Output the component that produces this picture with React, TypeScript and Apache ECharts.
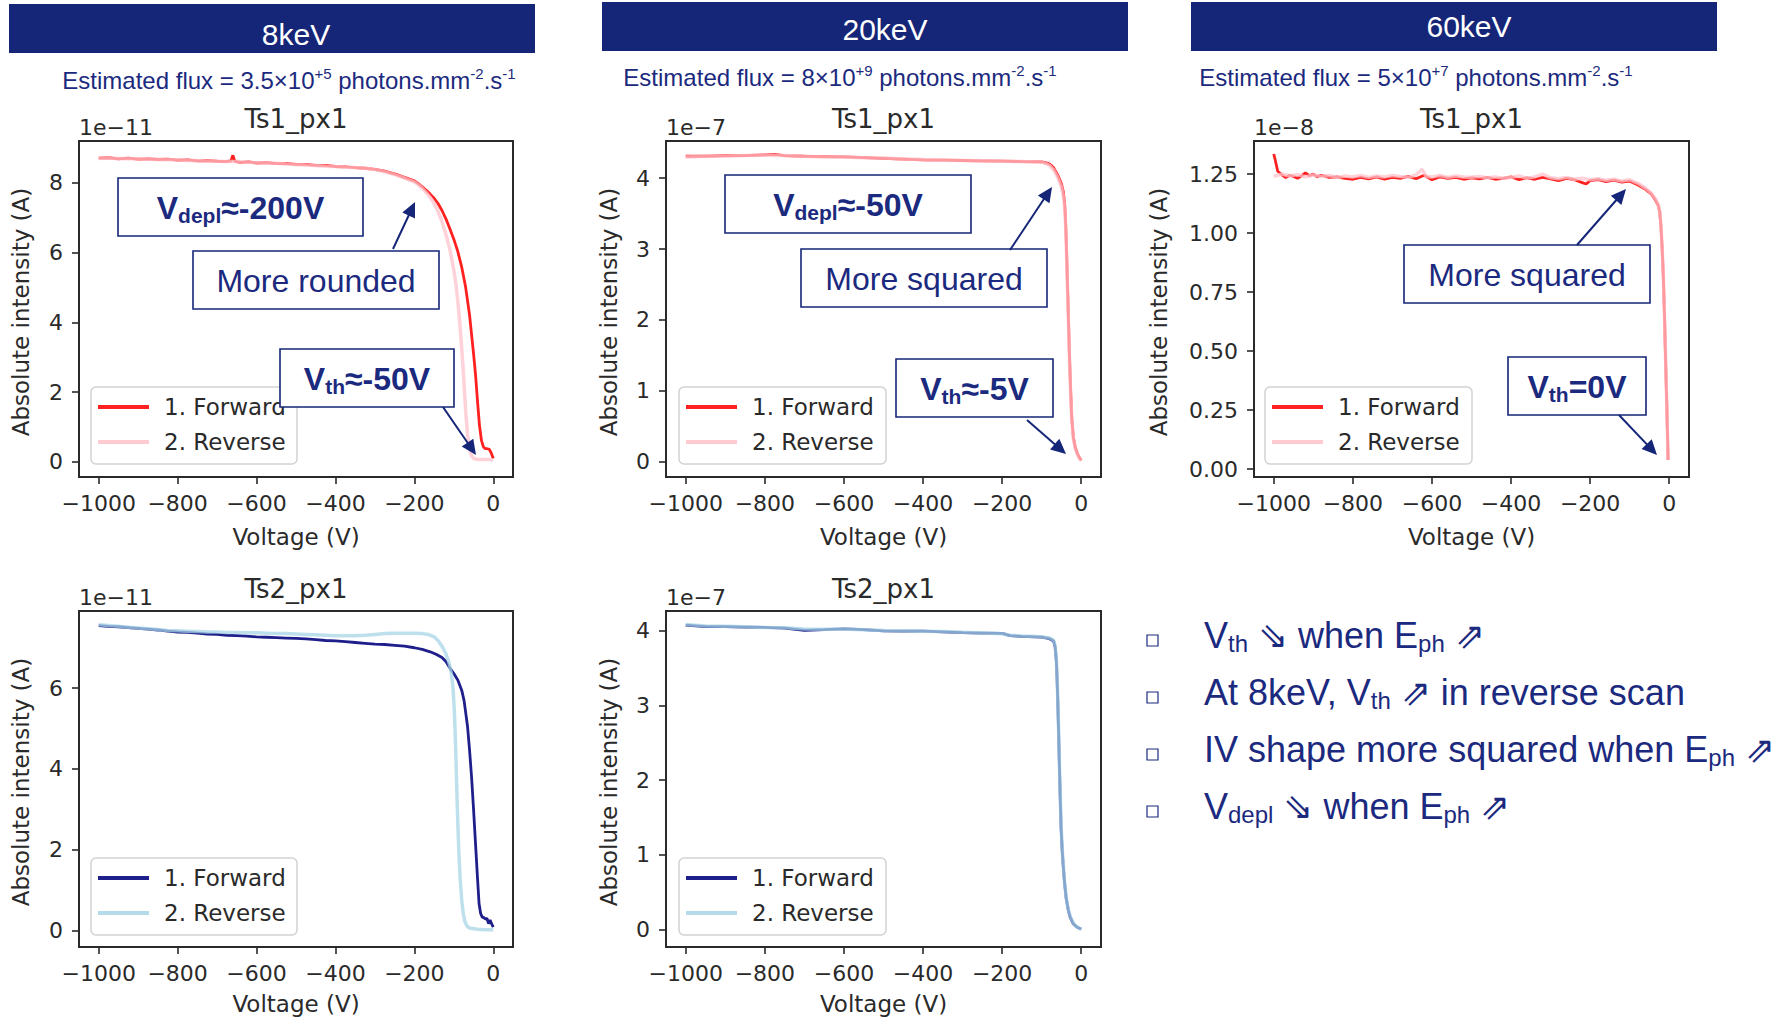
import React, { useEffect, useRef } from 'react';
import * as echarts from 'echarts';

// ---------------- DATA (voltage V, current in the panel's 1e-x unit) ----------------
// 8keV, Ts1_px1 (x 1e-11 A)
const A_FWD: [number, number][] = [
  [-1000, 8.70], [-975, 8.71], [-950, 8.68], [-925, 8.70], [-900, 8.67], [-875, 8.68], [-850, 8.66], [-825, 8.67],
  [-800, 8.64], [-775, 8.65], [-750, 8.62], [-725, 8.63], [-700, 8.61], [-680, 8.60], [-665, 8.62], [-660, 8.78],
  [-655, 8.61], [-640, 8.58], [-620, 8.59], [-600, 8.56], [-575, 8.57], [-550, 8.54], [-525, 8.55], [-500, 8.52],
  [-475, 8.52], [-450, 8.49], [-425, 8.49], [-400, 8.46], [-375, 8.45], [-350, 8.43], [-325, 8.41], [-300, 8.38],
  [-275, 8.33], [-250, 8.25], [-225, 8.15], [-200, 8.05], [-190, 7.97], [-180, 7.88], [-170, 7.78], [-160, 7.67],
  [-150, 7.55], [-140, 7.40], [-130, 7.20], [-120, 6.96], [-110, 6.68], [-100, 6.38], [-90, 6.03], [-80, 5.58],
  [-70, 5.00], [-60, 4.20], [-50, 3.10], [-45, 2.50], [-40, 1.75], [-35, 1.05], [-30, 0.62], [-25, 0.43],
  [-20, 0.38], [-15, 0.38], [-10, 0.36], [-5, 0.25], [0, 0.10],
];
const A_REV: [number, number][] = [
  [-1000, 8.69], [-975, 8.70], [-950, 8.69], [-925, 8.68], [-900, 8.68], [-875, 8.67], [-850, 8.66], [-825, 8.65],
  [-800, 8.65], [-775, 8.63], [-750, 8.63], [-725, 8.61], [-700, 8.61], [-675, 8.60], [-650, 8.60], [-625, 8.58],
  [-600, 8.57], [-575, 8.56], [-550, 8.55], [-525, 8.53], [-500, 8.52], [-475, 8.50], [-450, 8.49], [-425, 8.47],
  [-400, 8.46], [-375, 8.44], [-350, 8.43], [-325, 8.41], [-300, 8.37], [-275, 8.31], [-250, 8.23], [-225, 8.13],
  [-200, 8.02], [-190, 7.94], [-180, 7.84], [-170, 7.72], [-160, 7.58], [-150, 7.40], [-140, 7.17], [-130, 6.88],
  [-120, 6.52], [-110, 6.08], [-100, 5.50], [-95, 5.12], [-90, 4.62], [-85, 4.00], [-80, 3.25], [-75, 2.45],
  [-70, 1.45], [-65, 0.78], [-60, 0.38], [-55, 0.18], [-50, 0.10], [-40, 0.07], [-30, 0.07], [-20, 0.07],
  [-10, 0.07], [0, 0.06],
];
// 20keV, Ts1_px1 (x 1e-7 A)
const B_FWD: [number, number][] = [
  [-1000, 4.31], [-950, 4.31], [-900, 4.32], [-850, 4.32], [-800, 4.33], [-775, 4.335], [-750, 4.32], [-700, 4.31],
  [-650, 4.305], [-600, 4.30], [-550, 4.29], [-500, 4.28], [-450, 4.27], [-400, 4.26], [-350, 4.255], [-300, 4.25],
  [-250, 4.245], [-200, 4.24], [-150, 4.235], [-100, 4.23], [-90, 4.22], [-80, 4.20], [-70, 4.15], [-60, 4.05],
  [-50, 3.92], [-45, 3.80], [-42, 3.65], [-40, 3.45], [-38, 3.15], [-36, 2.75], [-34, 2.35], [-32, 1.95],
  [-30, 1.55], [-28, 1.20], [-26, 0.90], [-24, 0.62], [-20, 0.35], [-15, 0.20], [-10, 0.12], [-5, 0.06], [0, 0.02],
];
const B_REV: [number, number][] = [
  [-1000, 4.30], [-950, 4.31], [-900, 4.31], [-850, 4.32], [-800, 4.325], [-750, 4.32], [-700, 4.31], [-650, 4.30],
  [-600, 4.30], [-550, 4.29], [-500, 4.285], [-450, 4.27], [-400, 4.265], [-350, 4.255], [-300, 4.25], [-250, 4.245],
  [-200, 4.24], [-150, 4.235], [-100, 4.225], [-90, 4.21], [-80, 4.18], [-70, 4.12], [-60, 4.02], [-50, 3.88],
  [-45, 3.75], [-42, 3.60], [-40, 3.40], [-38, 3.10], [-36, 2.70], [-34, 2.30], [-32, 1.90], [-30, 1.50],
  [-28, 1.15], [-26, 0.85], [-24, 0.60], [-20, 0.33], [-15, 0.19], [-10, 0.11], [-5, 0.05], [0, 0.02],
];
// 60keV, Ts1_px1 (x 1e-8 A)
const C_FWD: [number, number][] = [
  [-1000, 1.335], [-995, 1.30], [-990, 1.262], [-980, 1.248], [-970, 1.235], [-960, 1.245], [-950, 1.24], [-940, 1.232],
  [-930, 1.242], [-920, 1.255], [-910, 1.243], [-900, 1.25], [-890, 1.238], [-880, 1.245], [-860, 1.236], [-840, 1.238],
  [-820, 1.232], [-800, 1.228], [-780, 1.236], [-760, 1.230], [-740, 1.238], [-720, 1.228], [-700, 1.236], [-680, 1.232],
  [-660, 1.24], [-640, 1.23], [-620, 1.245], [-600, 1.226], [-580, 1.238], [-560, 1.232], [-540, 1.236], [-520, 1.228],
  [-500, 1.234], [-480, 1.23], [-460, 1.236], [-440, 1.228], [-420, 1.232], [-400, 1.238], [-380, 1.226], [-360, 1.234],
  [-340, 1.228], [-320, 1.236], [-300, 1.23], [-280, 1.222], [-260, 1.232], [-240, 1.226], [-220, 1.214], [-210, 1.208],
  [-200, 1.222], [-180, 1.226], [-160, 1.218], [-140, 1.224], [-120, 1.216], [-100, 1.22], [-80, 1.205], [-60, 1.185],
  [-45, 1.165], [-35, 1.14], [-28, 1.118], [-24, 1.09], [-21, 1.03], [-18, 0.94], [-15, 0.82], [-12, 0.65],
  [-9, 0.45], [-6, 0.26], [-4, 0.12], [-3, 0.04],
];
const C_REV: [number, number][] = [
  [-1000, 1.24], [-990, 1.245], [-980, 1.25], [-960, 1.242], [-940, 1.248], [-920, 1.238], [-900, 1.246], [-880, 1.24],
  [-860, 1.244], [-840, 1.236], [-820, 1.242], [-800, 1.238], [-780, 1.244], [-760, 1.236], [-740, 1.242], [-720, 1.238],
  [-700, 1.244], [-680, 1.24], [-660, 1.236], [-640, 1.246], [-625, 1.27], [-615, 1.24], [-600, 1.238], [-580, 1.244],
  [-560, 1.236], [-540, 1.242], [-520, 1.238], [-500, 1.236], [-480, 1.24], [-460, 1.234], [-440, 1.238], [-420, 1.232],
  [-400, 1.236], [-380, 1.242], [-360, 1.232], [-340, 1.238], [-320, 1.25], [-300, 1.234], [-280, 1.23], [-260, 1.236],
  [-240, 1.228], [-220, 1.232], [-200, 1.226], [-180, 1.23], [-160, 1.224], [-140, 1.228], [-120, 1.22], [-100, 1.226],
  [-90, 1.218], [-80, 1.212], [-60, 1.19], [-45, 1.168], [-35, 1.145], [-28, 1.12], [-24, 1.095], [-21, 1.035],
  [-18, 0.945], [-15, 0.825], [-12, 0.655], [-9, 0.455], [-6, 0.265], [-4, 0.125], [-3, 0.04],
];
// 8keV, Ts2_px1 (x 1e-11 A)
const D_FWD: [number, number][] = [
  [-1000, 7.55], [-975, 7.53], [-950, 7.52], [-925, 7.50], [-900, 7.48], [-875, 7.46], [-850, 7.44], [-825, 7.41],
  [-800, 7.39], [-775, 7.38], [-750, 7.36], [-725, 7.34], [-700, 7.33], [-675, 7.31], [-650, 7.30], [-625, 7.29],
  [-600, 7.27], [-575, 7.26], [-550, 7.25], [-525, 7.24], [-500, 7.23], [-475, 7.22], [-450, 7.20], [-425, 7.18],
  [-400, 7.17], [-375, 7.15], [-350, 7.13], [-325, 7.11], [-300, 7.09], [-275, 7.08], [-250, 7.06], [-225, 7.04],
  [-200, 7.00], [-180, 6.96], [-160, 6.90], [-145, 6.84], [-130, 6.76], [-120, 6.66], [-110, 6.50], [-100, 6.36],
  [-90, 6.20], [-80, 5.95], [-74, 5.69], [-70, 5.40], [-65, 5.03], [-60, 4.45], [-55, 3.80], [-50, 3.00],
  [-45, 2.15], [-40, 1.30], [-36, 0.66], [-32, 0.42], [-28, 0.33], [-24, 0.32], [-20, 0.28], [-16, 0.30],
  [-12, 0.17], [-8, 0.26], [-5, 0.18], [0, 0.08],
];
const D_REV: [number, number][] = [
  [-1000, 7.57], [-975, 7.55], [-950, 7.53], [-925, 7.51], [-900, 7.49], [-875, 7.47], [-850, 7.45], [-825, 7.43],
  [-800, 7.42], [-775, 7.41], [-750, 7.40], [-725, 7.39], [-700, 7.39], [-675, 7.38], [-650, 7.38], [-625, 7.37],
  [-600, 7.37], [-575, 7.36], [-550, 7.35], [-525, 7.35], [-500, 7.34], [-475, 7.33], [-450, 7.32], [-425, 7.31],
  [-400, 7.30], [-375, 7.30], [-350, 7.30], [-325, 7.31], [-300, 7.33], [-275, 7.35], [-250, 7.36], [-225, 7.36],
  [-200, 7.36], [-180, 7.35], [-165, 7.33], [-150, 7.27], [-140, 7.18], [-130, 7.04], [-120, 6.85], [-112, 6.62],
  [-106, 6.35], [-102, 6.00], [-99, 5.50], [-97, 5.00], [-95, 4.40], [-93, 3.70], [-91, 3.00], [-89, 2.40],
  [-87, 1.90], [-84, 1.30], [-80, 0.75], [-76, 0.42], [-72, 0.22], [-66, 0.10], [-60, 0.06], [-40, 0.03],
  [-20, 0.02], [0, 0.02],
];
// 20keV, Ts2_px1 (x 1e-7 A)
const E_FWD: [number, number][] = [
  [-1000, 4.07], [-975, 4.06], [-950, 4.05], [-900, 4.05], [-850, 4.045], [-800, 4.04], [-750, 4.03], [-700, 4.00],
  [-650, 4.01], [-600, 4.02], [-550, 4.01], [-500, 3.995], [-450, 3.99], [-400, 3.99], [-350, 3.98], [-300, 3.97],
  [-250, 3.965], [-200, 3.96], [-180, 3.93], [-150, 3.92], [-100, 3.91], [-80, 3.89], [-70, 3.86], [-66, 3.78],
  [-63, 3.60], [-61, 3.35], [-59, 3.00], [-57, 2.60], [-55, 2.15], [-53, 1.75], [-51, 1.37], [-48, 1.05],
  [-45, 0.82], [-42, 0.62], [-38, 0.42], [-33, 0.27], [-28, 0.17], [-20, 0.08], [-12, 0.04], [-5, 0.02], [0, 0.01],
];
const E_REV: [number, number][] = [
  [-1000, 4.08], [-975, 4.07], [-950, 4.06], [-900, 4.055], [-850, 4.05], [-800, 4.04], [-750, 4.035], [-700, 4.02],
  [-650, 4.015], [-600, 4.02], [-550, 4.01], [-500, 4.00], [-450, 3.995], [-400, 3.99], [-350, 3.985], [-300, 3.975],
  [-250, 3.965], [-200, 3.955], [-180, 3.935], [-150, 3.925], [-100, 3.915], [-80, 3.90], [-70, 3.87], [-66, 3.80],
  [-63, 3.63], [-61, 3.38], [-59, 3.03], [-57, 2.63], [-55, 2.18], [-53, 1.78], [-51, 1.40], [-48, 1.07],
  [-45, 0.84], [-42, 0.63], [-38, 0.43], [-33, 0.28], [-28, 0.18], [-20, 0.09], [-12, 0.04], [-5, 0.02], [0, 0.01],
];

const VOLT_TICKS = [-1000, -800, -600, -400, -200, 0];
const TICKS_8KEV_TS1 = [0, 2, 4, 6, 8];
const TICKS_20KEV = [0, 1, 2, 3, 4];
const TICKS_60KEV = [0, 0.25, 0.5, 0.75, 1.0, 1.25];
const TICKS_8KEV_TS2 = [0, 2, 4, 6];

const ENERGIES = ['8keV', '20keV', '60keV'];
const FLUX_MANTISSA = ['3.5×10', '8×10', '5×10'];
const FLUX_EXP = ['+5', '+9', '+7'];
const LEGEND_NAMES = ['1. Forward', '2. Reverse'];
const X_NAME = 'Voltage (V)';
const Y_NAME = 'Absolute intensity (A)';

// ---------------- STYLE / LAYOUT ----------------
const NAVY = '#152678';
const TEXT_NAVY = '#1b2a7e';
const MPL = '#2a2a2a';
const MPL_FONT = 'DejaVu Sans';
const SLIDE_FONT = 'Liberation Sans';

const RED = '#ff2020';
const PINK = '#ffc2cb';
const DARKBLUE = '#1f1f8c';
const LIGHTBLUE = '#a8d5e6';

type Panel = {
  box: [number, number, number, number];
  y: [number, number];
  ticks: number[];
  dec: number;
  title: string;
  exp: string;
  fwd: [number, number][];
  rev: [number, number][];
  colors: [string, string];
  legend: [number, number, number, number];
  yLabelX: number;
  xNameY: number;
};

const PANELS: Panel[] = [
  { box: [79, 141, 434, 336], y: [-0.43, 9.19], ticks: TICKS_8KEV_TS1, dec: 0, title: 'Ts1_px1', exp: '1e\u221211', fwd: A_FWD, rev: A_REV, colors: [RED, PINK], legend: [91, 387, 206, 77], yLabelX: 21, xNameY: 537 },
  { box: [666, 141, 435, 336], y: [-0.215, 4.525], ticks: TICKS_20KEV, dec: 0, title: 'Ts1_px1', exp: '1e\u22127', fwd: B_FWD, rev: B_REV, colors: [RED, PINK], legend: [679, 387, 207, 77], yLabelX: 609, xNameY: 537 },
  { box: [1254, 141, 435, 336], y: [-0.033, 1.39], ticks: TICKS_60KEV, dec: 2, title: 'Ts1_px1', exp: '1e\u22128', fwd: C_FWD, rev: C_REV, colors: [RED, PINK], legend: [1265, 387, 207, 77], yLabelX: 1159, xNameY: 537 },
  { box: [79, 611, 434, 336], y: [-0.41, 7.91], ticks: TICKS_8KEV_TS2, dec: 0, title: 'Ts2_px1', exp: '1e\u221211', fwd: D_FWD, rev: D_REV, colors: [DARKBLUE, LIGHTBLUE], legend: [91, 858, 206, 77], yLabelX: 21, xNameY: 1004 },
  { box: [666, 611, 435, 336], y: [-0.23, 4.26], ticks: TICKS_20KEV, dec: 0, title: 'Ts2_px1', exp: '1e\u22127', fwd: E_FWD, rev: E_REV, colors: [DARKBLUE, LIGHTBLUE], legend: [679, 858, 207, 77], yLabelX: 609, xNameY: 1004 },
];

const HEADERS: [number, number, number, number][] = [
  [9, 4, 526, 49],
  [602, 2, 526, 49],
  [1191, 2, 526, 49],
];
const HEADER_TEXT_POS: [number, number][] = [[296, 34], [885, 29], [1469, 26]];
const FLUX_POS: [number, number][] = [[289, 80], [840, 77], [1416, 77]];

type Part = [string, string];
const ANNOTATIONS: { box: [number, number, number, number]; parts: Part[] }[] = [
  { box: [118, 178, 245, 58], parts: [['b', 'V'], ['bs', 'depl'], ['b', '≈-200V']] },
  { box: [193, 251, 246, 58], parts: [['r', 'More rounded']] },
  { box: [280, 349, 174, 58], parts: [['b', 'V'], ['bs', 'th'], ['b', '≈-50V']] },
  { box: [725, 175, 246, 58], parts: [['b', 'V'], ['bs', 'depl'], ['b', '≈-50V']] },
  { box: [801, 249, 246, 58], parts: [['r', 'More squared']] },
  { box: [896, 359, 157, 58], parts: [['b', 'V'], ['bs', 'th'], ['b', '≈-5V']] },
  { box: [1404, 245, 246, 58], parts: [['r', 'More squared']] },
  { box: [1508, 357, 138, 58], parts: [['b', 'V'], ['bs', 'th'], ['b', '=0V']] },
];
const ARROWS: [number, number, number, number][] = [
  [393, 249, 415, 202],
  [443, 407, 476, 455],
  [1010, 250, 1052, 187],
  [1027, 420, 1066, 454],
  [1577, 245, 1626, 189],
  [1619, 415, 1657, 455],
];

const BULLETS: Part[][] = [
  [['t', 'V'], ['s', 'th'], ['t', ' ⇘ when E'], ['s', 'ph'], ['t', ' ⇗']],
  [['t', 'At 8keV, V'], ['s', 'th'], ['t', ' ⇗ in reverse scan']],
  [['t', 'IV shape more squared when E'], ['s', 'ph'], ['t', ' ⇗']],
  [['t', 'V'], ['s', 'depl'], ['t', ' ⇘ when E'], ['s', 'ph'], ['t', ' ⇗']],
];
const BULLET_Y = [633, 690, 747, 804];
const BULLET_BOX_Y = [635, 692, 749, 806];
const BULLET_X = 1204;

const richText = (parts: Part[]) => parts.map(([k, t]) => `{${k}|${t}}`).join('');

function arrowEls(x1: number, y1: number, x2: number, y2: number) {
  const dx = x2 - x1;
  const dy = y2 - y1;
  const L = Math.hypot(dx, dy);
  const ux = dx / L;
  const uy = dy / L;
  const hl = 15;
  const hw = 7;
  const bx = x2 - ux * hl;
  const by = y2 - uy * hl;
  return [
    { type: 'line', z: 110, shape: { x1, y1, x2: bx + ux * 2, y2: by + uy * 2 }, style: { stroke: NAVY, lineWidth: 2 } },
    {
      type: 'polygon', z: 110,
      shape: { points: [[x2, y2], [bx - uy * hw, by + ux * hw], [bx + uy * hw, by - ux * hw]] },
      style: { fill: NAVY },
    },
  ];
}

function buildOption() {
  const grid: any[] = [];
  const xAxis: any[] = [];
  const yAxis: any[] = [];
  const series: any[] = [];
  const graphic: any[] = [];

  PANELS.forEach((p, i) => {
    const [left, top, width, height] = p.box;
    grid.push({
      left, top, width, height, show: true, borderColor: MPL, borderWidth: 2,
      backgroundColor: 'transparent', containLabel: false, outerBoundsMode: 'none',
    });
    xAxis.push({
      type: 'value', gridIndex: i, min: -1050, max: 50,
      axisLine: { show: false, onZero: false },
      splitLine: { show: false },
      axisTick: { show: true, inside: false, length: 7, customValues: VOLT_TICKS, lineStyle: { color: MPL, width: 1.6 } },
      axisLabel: {
        customValues: VOLT_TICKS, margin: 15, fontFamily: MPL_FONT, fontSize: 22, color: MPL,
        formatter: (v: number) => (v < 0 ? '\u2212' + Math.abs(v) : String(v)),
      },
    });
    yAxis.push({
      type: 'value', gridIndex: i, min: p.y[0], max: p.y[1],
      axisLine: { show: false, onZero: false },
      splitLine: { show: false },
      axisTick: { show: true, inside: false, length: 7, customValues: p.ticks, lineStyle: { color: MPL, width: 1.6 } },
      axisLabel: {
        customValues: p.ticks, margin: 16, fontFamily: MPL_FONT, fontSize: 22, color: MPL,
        formatter: (v: number) => v.toFixed(p.dec),
      },
    });
    series.push({
      type: 'line', name: LEGEND_NAMES[0], xAxisIndex: i, yAxisIndex: i, data: p.fwd,
      showSymbol: false, symbol: 'none', silent: true, z: 2,
      lineStyle: { color: p.colors[0], width: 2.8 }, itemStyle: { color: p.colors[0] },
    });
    series.push({
      type: 'line', name: LEGEND_NAMES[1], xAxisIndex: i, yAxisIndex: i, data: p.rev,
      showSymbol: false, symbol: 'none', silent: true, z: 3,
      lineStyle: { color: p.colors[1], width: 3.5, opacity: 0.75 }, itemStyle: { color: p.colors[1] },
    });

    // title
    graphic.push({
      type: 'text', z: 50, x: left + width / 2, y: top - 9,
      style: { text: p.title, fontFamily: MPL_FONT, fontSize: 26, fill: MPL, align: 'center', verticalAlign: 'bottom', textAlign: 'center', textVerticalAlign: 'bottom' },
    });
    // offset text
    graphic.push({
      type: 'text', z: 50, x: left, y: top - 3,
      style: { text: p.exp, fontFamily: MPL_FONT, fontSize: 22, fill: MPL, align: 'left', verticalAlign: 'bottom', textAlign: 'left', textVerticalAlign: 'bottom' },
    });
    // axis names
    graphic.push({
      type: 'text', z: 50, x: left + width / 2, y: p.xNameY,
      style: { text: X_NAME, fontFamily: MPL_FONT, fontSize: 23, fill: MPL, align: 'center', verticalAlign: 'middle', textAlign: 'center', textVerticalAlign: 'middle' },
    });
    graphic.push({
      type: 'text', z: 50, x: p.yLabelX, y: top + height / 2 + 3, rotation: Math.PI / 2,
      style: { text: Y_NAME, fontFamily: MPL_FONT, fontSize: 23, fill: MPL, align: 'center', verticalAlign: 'middle', textAlign: 'center', textVerticalAlign: 'middle' },
    });
    // legend
    const [lx, ly, lw, lh] = p.legend;
    graphic.push({
      type: 'rect', z: 60, shape: { x: lx, y: ly, width: lw, height: lh, r: 5 },
      style: { fill: 'rgba(255,255,255,0.85)', stroke: '#d2d2d2', lineWidth: 1.5 },
    });
    [0, 1].forEach((k) => {
      const yy = ly + 20 + k * 35;
      graphic.push({
        type: 'line', z: 61, shape: { x1: lx + 7, y1: yy, x2: lx + 58, y2: yy },
        style: { stroke: p.colors[k], lineWidth: 4, opacity: k === 1 ? 0.85 : 1 },
      });
      graphic.push({
        type: 'text', z: 61, x: lx + 73, y: yy,
        style: { text: LEGEND_NAMES[k], fontFamily: MPL_FONT, fontSize: 23, fill: MPL, align: 'left', verticalAlign: 'middle', textAlign: 'left', textVerticalAlign: 'middle' },
      });
    });
  });

  // headers
  HEADERS.forEach(([x, y, w, h], i) => {
    graphic.push({ type: 'rect', z: 10, shape: { x, y, width: w, height: h }, style: { fill: NAVY } });
    const [tx, ty] = HEADER_TEXT_POS[i];
    graphic.push({
      type: 'text', z: 11, x: tx, y: ty,
      style: { text: ENERGIES[i], fontFamily: SLIDE_FONT, fontSize: 30, fill: '#ffffff', align: 'center', verticalAlign: 'middle', textAlign: 'center', textVerticalAlign: 'middle' },
    });
    const [fx, fy] = FLUX_POS[i];
    graphic.push({
      type: 'text', z: 11, x: fx, y: fy,
      style: {
        text: `{t|Estimated flux = ${FLUX_MANTISSA[i]}}{p|${FLUX_EXP[i]}}{t| photons.mm}{p|-2}{t|.s}{p|-1}`,
        align: 'center', verticalAlign: 'middle', textAlign: 'center', textVerticalAlign: 'middle',
        rich: {
          t: { fontFamily: SLIDE_FONT, fontSize: 24, fill: TEXT_NAVY, color: TEXT_NAVY, lineHeight: 28 },
          p: { fontFamily: SLIDE_FONT, fontSize: 15, fill: TEXT_NAVY, color: TEXT_NAVY, lineHeight: 14, verticalAlign: 'top' },
        },
      },
    });
  });

  // annotations
  const annRich = {
    b: { fontFamily: SLIDE_FONT, fontSize: 32, fontWeight: 'bold', fill: TEXT_NAVY, color: TEXT_NAVY, lineHeight: 36 },
    bs: { fontFamily: SLIDE_FONT, fontSize: 21, fontWeight: 'bold', fill: TEXT_NAVY, color: TEXT_NAVY, lineHeight: 16, verticalAlign: 'bottom' },
    r: { fontFamily: SLIDE_FONT, fontSize: 32, fill: TEXT_NAVY, color: TEXT_NAVY, lineHeight: 36 },
  };
  ANNOTATIONS.forEach(({ box, parts }) => {
    const [x, y, w, h] = box;
    graphic.push({ type: 'rect', z: 100, shape: { x, y, width: w, height: h }, style: { fill: '#ffffff', stroke: NAVY, lineWidth: 1.6 } });
    graphic.push({
      type: 'text', z: 101, x: x + w / 2, y: y + h / 2 + 1,
      style: { text: richText(parts), rich: annRich, align: 'center', verticalAlign: 'middle', textAlign: 'center', textVerticalAlign: 'middle' },
    });
  });
  ARROWS.forEach(([x1, y1, x2, y2]) => graphic.push(...arrowEls(x1, y1, x2, y2)));

  // bullets
  const bRich = {
    t: { fontFamily: SLIDE_FONT, fontSize: 36, fill: TEXT_NAVY, color: TEXT_NAVY, lineHeight: 40 },
    s: { fontFamily: SLIDE_FONT, fontSize: 24, fill: TEXT_NAVY, color: TEXT_NAVY, lineHeight: 20, verticalAlign: 'bottom' },
  };
  BULLETS.forEach((parts, i) => {
    graphic.push({ type: 'rect', z: 20, shape: { x: 1147, y: BULLET_BOX_Y[i], width: 11, height: 11 }, style: { fill: 'none', stroke: TEXT_NAVY, lineWidth: 1.2 } });
    graphic.push({
      type: 'text', z: 20, x: BULLET_X, y: BULLET_Y[i] + 2,
      style: { text: richText(parts), rich: bRich, align: 'left', verticalAlign: 'middle', textAlign: 'left', textVerticalAlign: 'middle' },
    });
  });

  return {
    animation: false,
    backgroundColor: '#ffffff',
    textStyle: { fontFamily: MPL_FONT },
    grid, xAxis, yAxis, series, graphic,
  };
}

export default function App() {
  const ref = useRef<HTMLDivElement>(null);
  useEffect(() => {
    document.body.style.margin = '0';
    if (!ref.current) return;
    const chart = echarts.init(ref.current, undefined, { renderer: 'svg', width: 1792, height: 1018 });
    chart.setOption(buildOption() as any);
    return () => chart.dispose();
  }, []);
  return <div ref={ref} style={{ position: 'absolute', left: 0, top: 0, width: 1792, height: 1018, background: '#fff' }} />;
}
